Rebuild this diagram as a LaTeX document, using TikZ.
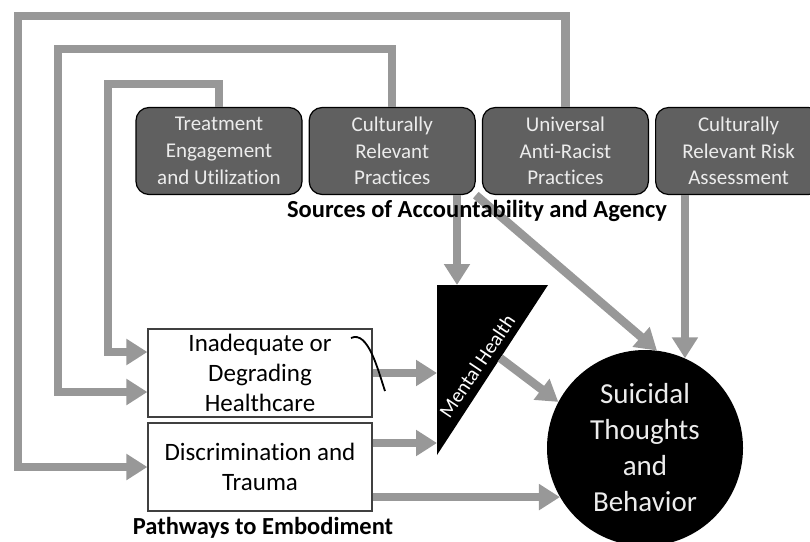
\documentclass[tikz,border=0pt]{standalone}
\usepackage{fontspec}
\setmainfont{Carlito}[Ligatures=NoCommon]
\usetikzlibrary{positioning,arrows.meta,calc}

\definecolor{linkgray}{RGB}{152,152,152}
\definecolor{boxgray}{RGB}{96,96,96}
\definecolor{boxtext}{RGB}{236,236,236}

\begin{document}
\begin{tikzpicture}[x=1pt, y=-1pt,
    source/.style={draw=black, line width=1.2pt, fill=boxgray, rounded corners=13pt,
        minimum width=166pt, minimum height=87pt, align=center, text=boxtext,
        font=\fontsize{21}{26.7}\selectfont},
    pathway/.style={draw=black!75, line width=1.2pt, fill=white,
        minimum width=224pt, minimum height=88pt, align=center,
        font=\fontsize{25}{30}\selectfont},
    link/.style={draw=linkgray, line width=8.5pt, -{Triangle[length=21pt,width=25pt]}},
    caption/.style={font=\bfseries\fontsize{24.5}{28}\selectfont}]
    \useasboundingbox (0,0) rectangle (810,541);

    % sources of accountability and agency
    \node [source] (treat) at (219,151) {Treatment\\Engagement\\and Utilization};
    \node [source, right=6pt of treat] (culture) {Culturally\\Relevant\\Practices};
    \node [source, right=6pt of culture] (anti) {Universal\\Anti-Racist\\Practices};
    \node [source, right=6pt of anti] (risk) {Culturally\\Relevant Risk\\Assessment};

    % pathways to embodiment
    \node [pathway] (inad) at (260,373) {Inadequate or\\Degrading\\Healthcare};
    \node [pathway] (disc) at (260,467) {Discrimination and\\Trauma};

    % mental health wedge
    \coordinate (mh1) at (437,285);
    \coordinate (mh2) at (548,285);
    \coordinate (mh3) at (437,455);
    \coordinate (mhin) at (457,285);
    \fill [black] (mh1) -- (mh2) -- (mh3) -- cycle;
    \node [rotate=56, text=white, inner sep=0pt, font=\fontsize{20.5}{24}\selectfont] (mh) at (477,366) {Mental Health};

    % outcome
    \node [circle, fill=black, minimum size=196pt, inner sep=0pt, align=center, text=boxtext,
        font=\fontsize{29}{36}\selectfont] (suic) at (645,448) {Suicidal\\Thoughts\\and\\Behavior};

    % feedback loops from the sources back to the pathways
    \draw [link] (treat.north) |- (108,84) |- ([yshift=21pt]inad.west);
    \draw [link] (culture.north) |- (58,49) |- ([yshift=-19pt]inad.west);
    \draw [link] (anti.north) |- (18,16) |- (disc.west);

    % direct links
    \draw [link] (culture.south -| mhin) -- (mhin);
    \draw [link] (culture.south east) -- (suic.83);
    \draw [link] (risk.south -| suic.66) -- (suic.66);
    \draw [link] (inad.east) -- (inad.east -| mh1);
    \draw [link] ([yshift=24pt]disc.east) -- ([yshift=24pt]disc.east -| mh1);
    \draw [link] (disc.east |- suic.210) -- (suic.210);
    \draw [link] ($(mh2)!0.43!(mh3)$) -- (suic.152);

    \draw [line width=1.8pt] (351,338) .. controls (368,330) and (378,370) .. (385,391);

    \node [caption] (sources) at (477,211) {Sources of Accountability and Agency};
    \node [caption] (pathways) at (263,528) {Pathways to Embodiment};
\end{tikzpicture}
\end{document}
